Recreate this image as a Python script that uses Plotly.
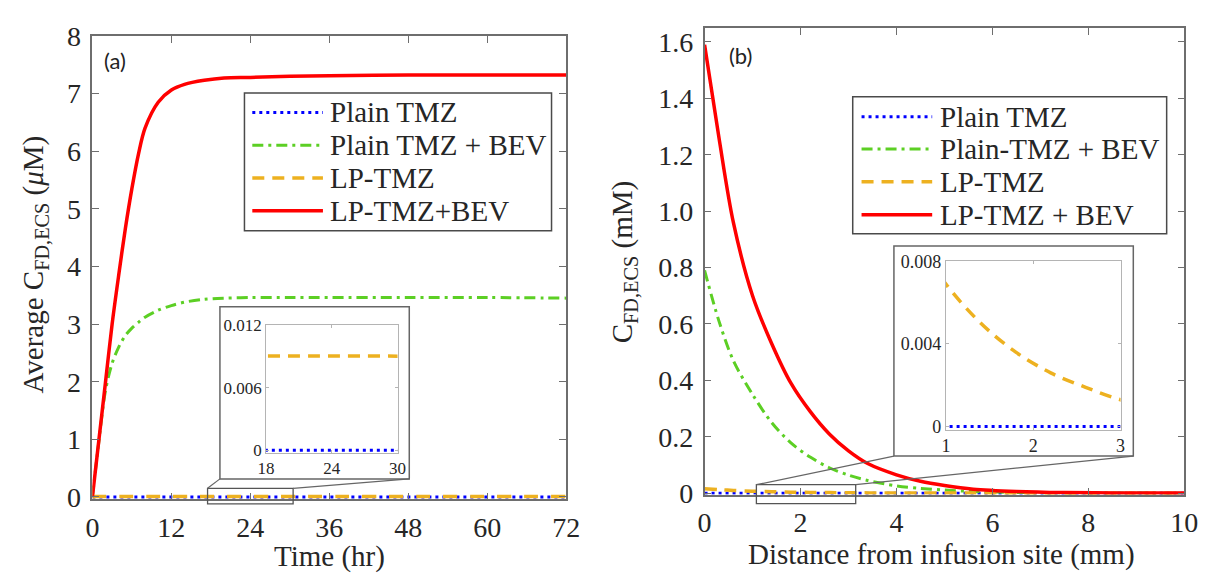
import plotly.graph_objects as go

# ---------------------------------------------------------------- data ----
# (a) average free-drug concentration in the ECS over time (uM)
time_hr = [0, 1, 2, 3, 4, 5, 6, 7, 8, 10, 12, 14, 17, 20, 24, 30, 36, 48, 60, 72]
lp_tmz_bev_time = [0, 1.0, 2.0, 3.0, 3.85, 4.65, 5.35, 5.95, 6.4, 6.85, 7.06, 7.16,
                   7.23, 7.27, 7.28, 7.30, 7.31, 7.32, 7.32, 7.32]
plain_tmz_bev_time = [0, 0.98, 1.85, 2.32, 2.6, 2.8, 2.93, 3.03, 3.12, 3.24, 3.32,
                      3.38, 3.43, 3.45, 3.46, 3.46, 3.46, 3.46, 3.46, 3.45]
time_lp_hr = [0, 0.5, 1, 2, 72]
lp_tmz_time = [0, 0.0072, 0.0086, 0.0088, 0.0088]
time_plain_hr = [0, 72]
plain_tmz_time = [0, 0]

# (b) free-drug concentration in the ECS vs distance from the infusion site (mM)
dist_mm = [0, 0.3, 0.6, 1, 1.4, 1.8, 2.2, 2.6, 3, 3.4, 4, 4.5, 5, 5.6, 6.5, 7.5, 8.5, 10]
lp_tmz_bev_dist = [1.59, 1.26, 0.96, 0.70, 0.53, 0.39, 0.29, 0.21, 0.15, 0.105, 0.065,
                   0.042, 0.027, 0.014, 0.006, 0.002, 0.0008, 0.0001]
plain_tmz_bev_dist = [0.79, 0.61, 0.47, 0.35, 0.25, 0.178, 0.128, 0.09, 0.064, 0.045,
                      0.026, 0.017, 0.011, 0.006, 0.0025, 0.0008, 0.0003, 0]
lp_tmz_dist = [0.016, 0.0125, 0.0097, 0.0069, 0.0050, 0.0036, 0.0026, 0.0019, 0.0013,
               0.00095, 0.0006, 0.0004, 0.00026, 0.00015, 0.00007, 0.00003, 0.00001, 0]
dist_plain_mm = [0, 10]
plain_tmz_dist = [0, 0]

# tick values / labels
time_ticks = [0, 12, 24, 36, 48, 60, 72]
conc_a_ticks = [0, 1, 2, 3, 4, 5, 6, 7, 8]
dist_ticks = [0, 2, 4, 6, 8, 10]
conc_b_ticks = [0, 0.2, 0.4, 0.6, 0.8, 1.0, 1.2, 1.4, 1.6]
conc_b_labels = ["0", "0.2", "0.4", "0.6", "0.8", "1.0", "1.2", "1.4", "1.6"]
inset_a_xticks = [18, 24, 30]
inset_a_yticks = [0, 0.006, 0.012]
inset_a_ylabels = ["0", "0.006", "0.012"]
inset_b_xticks = [1, 2, 3]
inset_b_yticks = [0, 0.004, 0.008]
inset_b_ylabels = ["0", "0.004", "0.008"]

names_a = ["Plain TMZ", "Plain TMZ + BEV", "LP-TMZ", "LP-TMZ+BEV"]
names_b = ["Plain TMZ", "Plain-TMZ + BEV", "LP-TMZ", "LP-TMZ + BEV"]

# ---------------------------------------------------------------- style ---
W, H = 1215, 587
SERIF = "Times New Roman, Liberation Serif, Tinos, serif"
SANS = "Lato, Open Sans, sans-serif"
TXT = "#262626"
FRAME = "#6e6e6e"
BLUE, GREEN, ORANGE, RED = "#0000ff", "#5ccf24", "#edb120", "#ff0000"
DOT = "3px,4px"
DASHDOT = "11px,5px,3px,5px"
DASH_BIG = "14px,13px"
DASH = "12px,8px"

# line style per series: (colour, dash, width)
style = {
    "plain": (BLUE, DOT, 3),
    "plain_bev": (GREEN, DASHDOT, 3),
    "lp": (ORANGE, DASH, 3.5),
    "lp_bev": (RED, None, 3.5),
}


def px_to_paper_x(p):
    return p / W


def px_to_paper_y(p):
    return 1 - p / H


def domain(p_a, p_b, v_a, v_b, lo, hi, vertical=False):
    """Pixel positions p_a/p_b of values v_a/v_b -> paper domain for range [lo, hi]."""
    s = (p_b - p_a) / (v_b - v_a)
    q_lo = p_a + (lo - v_a) * s
    q_hi = p_a + (hi - v_a) * s
    if vertical:
        return sorted([px_to_paper_y(q_lo), px_to_paper_y(q_hi)])
    return sorted([px_to_paper_x(q_lo), px_to_paper_x(q_hi)])


# axis ranges
ra_x, ra_y = [0, 72], [-0.04, 8]
rb_x, rb_y = [0, 10], [-0.005, 1.648]
ria_x, ria_y = [18, 30], [-0.00025, 0.012]
rib_x, rib_y = [1, 3], [-0.00015, 0.008]

# pixel anchors: (pixel of first value, pixel of second value, value1, value2)
geo = {
    "a_x": (85, 568, 0, 72), "a_y": (507, 22, 0, 8),
    "b_x": (709, 1198, 0, 10), "b_y": (503, 28.3, 0, 1.6),
    "ia_x": (262, 396, 18, 30), "ia_y": (458, 326, 0, 0.012),
    "ib_x": (955, 1133, 1, 3), "ib_y": (433, 259, 0, 0.008),
}


def data_to_px(key, v):
    p_a, p_b, v_a, v_b = geo[key]
    return p_a + (v - v_a) * (p_b - p_a) / (v_b - v_a)


fig = go.Figure()


def add_series(x, y, key, name, xa, ya, dash_override=None):
    c, d, w = style[key]
    if dash_override:
        d = dash_override
    fig.add_trace(go.Scatter(
        x=x, y=y, mode="lines", name=name, showlegend=False,
        line=dict(color=c, width=w, dash=d if d else "solid",
                  shape="spline", smoothing=0.9),
        xaxis=xa, yaxis=ya, hoverinfo="skip"))


# (a) main and its inset
for xa, ya, big in (("x", "y", True), ("x3", "y3", False)):
    add_series(time_plain_hr, plain_tmz_time, "plain", names_a[0], xa, ya)
    add_series(time_hr, plain_tmz_bev_time, "plain_bev", names_a[1], xa, ya)
    add_series(time_lp_hr, lp_tmz_time, "lp", names_a[2], xa, ya,
               DASH_BIG if big else None)
    add_series(time_hr, lp_tmz_bev_time, "lp_bev", names_a[3], xa, ya)

# (b) main and its inset
for xa, ya in (("x2", "y2"), ("x4", "y4")):
    add_series(dist_plain_mm, plain_tmz_dist, "plain", names_b[0], xa, ya)
    add_series(dist_mm, plain_tmz_bev_dist, "plain_bev", names_b[1], xa, ya)
    add_series(dist_mm, lp_tmz_dist, "lp", names_b[2], xa, ya)
    add_series(dist_mm, lp_tmz_bev_dist, "lp_bev", names_b[3], xa, ya)


def main_axis(rng, dom, tickvals, ticktext=None, anchor=None, standoff=None):
    d = dict(range=rng, domain=dom, tickmode="array", tickvals=tickvals,
             showgrid=False, zeroline=False, showline=True, mirror="ticks",
             linecolor=FRAME, linewidth=1.5, ticks="inside", ticklen=7,
             tickwidth=1.3, tickcolor=FRAME,
             tickfont=dict(family=SERIF, size=28, color=TXT))
    if ticktext:
        d["ticktext"] = ticktext
    if anchor:
        d["anchor"] = anchor
    if standoff is not None:
        d["ticklabelstandoff"] = standoff
    return d


def inset_axis(rng, dom, tickvals, ticktext=None, anchor=None, size=17):
    d = dict(range=rng, domain=dom, tickmode="array", tickvals=tickvals,
             showgrid=False, zeroline=False, showline=True, mirror="ticks",
             linecolor="#b4b4b4", linewidth=1, ticks="inside", ticklen=3,
             tickwidth=1, tickcolor="#b4b4b4",
             tickfont=dict(family=SERIF, size=size, color=TXT))
    if ticktext:
        d["ticktext"] = ticktext
    if anchor:
        d["anchor"] = anchor
    return d


fig.update_layout(
    width=W, height=H, margin=dict(l=0, r=0, t=0, b=0),
    paper_bgcolor="white", plot_bgcolor="white", showlegend=False,
    font=dict(family=SERIF, color=TXT),
    xaxis=main_axis(ra_x, domain(*geo["a_x"], *ra_x), time_ticks, anchor="y",
                    standoff=2),
    yaxis=main_axis(ra_y, domain(*geo["a_y"], *ra_y, vertical=True), conc_a_ticks,
                    anchor="x", standoff=4),
    xaxis2=main_axis(rb_x, domain(*geo["b_x"], *rb_x), dist_ticks, anchor="y2",
                     standoff=2),
    yaxis2=main_axis(rb_y, domain(*geo["b_y"], *rb_y, vertical=True), conc_b_ticks,
                     conc_b_labels, anchor="x2", standoff=4),
    xaxis3=inset_axis(ria_x, domain(*geo["ia_x"], *ria_x), inset_a_xticks, anchor="y3"),
    yaxis3=inset_axis(ria_y, domain(*geo["ia_y"], *ria_y, vertical=True),
                      inset_a_yticks, inset_a_ylabels, anchor="x3"),
    xaxis4=inset_axis(rib_x, domain(*geo["ib_x"], *rib_x), inset_b_xticks,
                      anchor="y4", size=18),
    yaxis4=inset_axis(rib_y, domain(*geo["ib_y"], *rib_y, vertical=True),
                      inset_b_yticks, inset_b_ylabels, anchor="x4", size=18),
)

shapes = []
annotations = []


def pline(x0, y0, x1, y1, color="#666666", width=1.4, dash=None):
    ln = dict(color=color, width=width)
    if dash:
        ln["dash"] = dash
    shapes.append(dict(type="line", xref="paper", yref="paper", layer="above",
                       x0=px_to_paper_x(x0), y0=px_to_paper_y(y0),
                       x1=px_to_paper_x(x1), y1=px_to_paper_y(y1), line=ln))


def prect(x0, y0, x1, y1, color="#666666", width=1.4, fill=None):
    shapes.append(dict(type="rect", xref="paper", yref="paper", layer="above",
                       x0=px_to_paper_x(x0), y0=px_to_paper_y(y0),
                       x1=px_to_paper_x(x1), y1=px_to_paper_y(y1),
                       line=dict(color=color, width=width),
                       fillcolor=fill if fill else "rgba(0,0,0,0)"))


def text(x, y, s, size=29, family=SERIF, xanchor="center", angle=0, color=TXT):
    annotations.append(dict(x=px_to_paper_x(x), y=px_to_paper_y(y), xref="paper",
                            yref="paper", text=s, showarrow=False, xanchor=xanchor,
                            yanchor="middle", textangle=angle,
                            font=dict(family=family, size=size, color=color)))


# zoom boxes (in data units) and their magnified frames
zoom_a = dict(x0=17.5, x1=30.5, y0=-0.12, y1=0.15)
zoom_b = dict(x0=1.08, x1=3.15, y0=-0.037, y1=0.03)

for key, zb, frame in (("a", zoom_a, (215, 307, 408, 488)),
                       ("b", zoom_b, (902, 243, 1146, 464))):
    zx0 = data_to_px(key + "_x", zb["x0"])
    zx1 = data_to_px(key + "_x", zb["x1"])
    zy0 = data_to_px(key + "_y", zb["y0"])
    zy1 = data_to_px(key + "_y", zb["y1"])
    prect(zx0, zy1, zx1, zy0, color="#555555", width=1.3)
    fx0, fy0, fx1, fy1 = frame
    prect(fx0, fy0, fx1, fy1, color="#666666", width=1.5)
    pline(zx0, zy1, fx0, fy1, color="#666666", width=1.2)
    pline(zx1, zy1, fx1, fy1, color="#666666", width=1.2)


# legends
def legend(box, rows, sample_x, text_x, names):
    prect(*box, color="#4a4a4a", width=1.5, fill="white")
    keys = ["plain", "plain_bev", "lp", "lp_bev"]
    for k, name, yr in zip(keys, names, rows):
        c, d, w = style[k]
        pline(sample_x[0], yr, sample_x[1], yr, color=c, width=w, dash=d)
        text(text_x, yr, name, size=29, xanchor="left")


legend((240, 82, 553, 227), [102.5, 137, 171.5, 206], (248, 320), 325, names_a)
legend((860, 86, 1180, 230), [107, 141, 175.5, 210], (869, 941), 947, names_b)

# panel tags
text(108, 48, "(a)", size=22, family=SANS, color="#222222")
text(746, 43, "(b)", size=22, family=SANS, color="#222222")

# axis titles
text(327, 570, "Time (hr)")
text(950, 568, "Distance from infusion site (mm)")
text(26, 263, "Average C<sub>FD,ECS</sub> (<i>\u03bc</i>M)", angle=-90)
text(627, 260, "C<sub>FD,ECS</sub> (mM)", angle=-90)

fig.update_layout(shapes=shapes, annotations=annotations)
fig.write_html("out.html")
